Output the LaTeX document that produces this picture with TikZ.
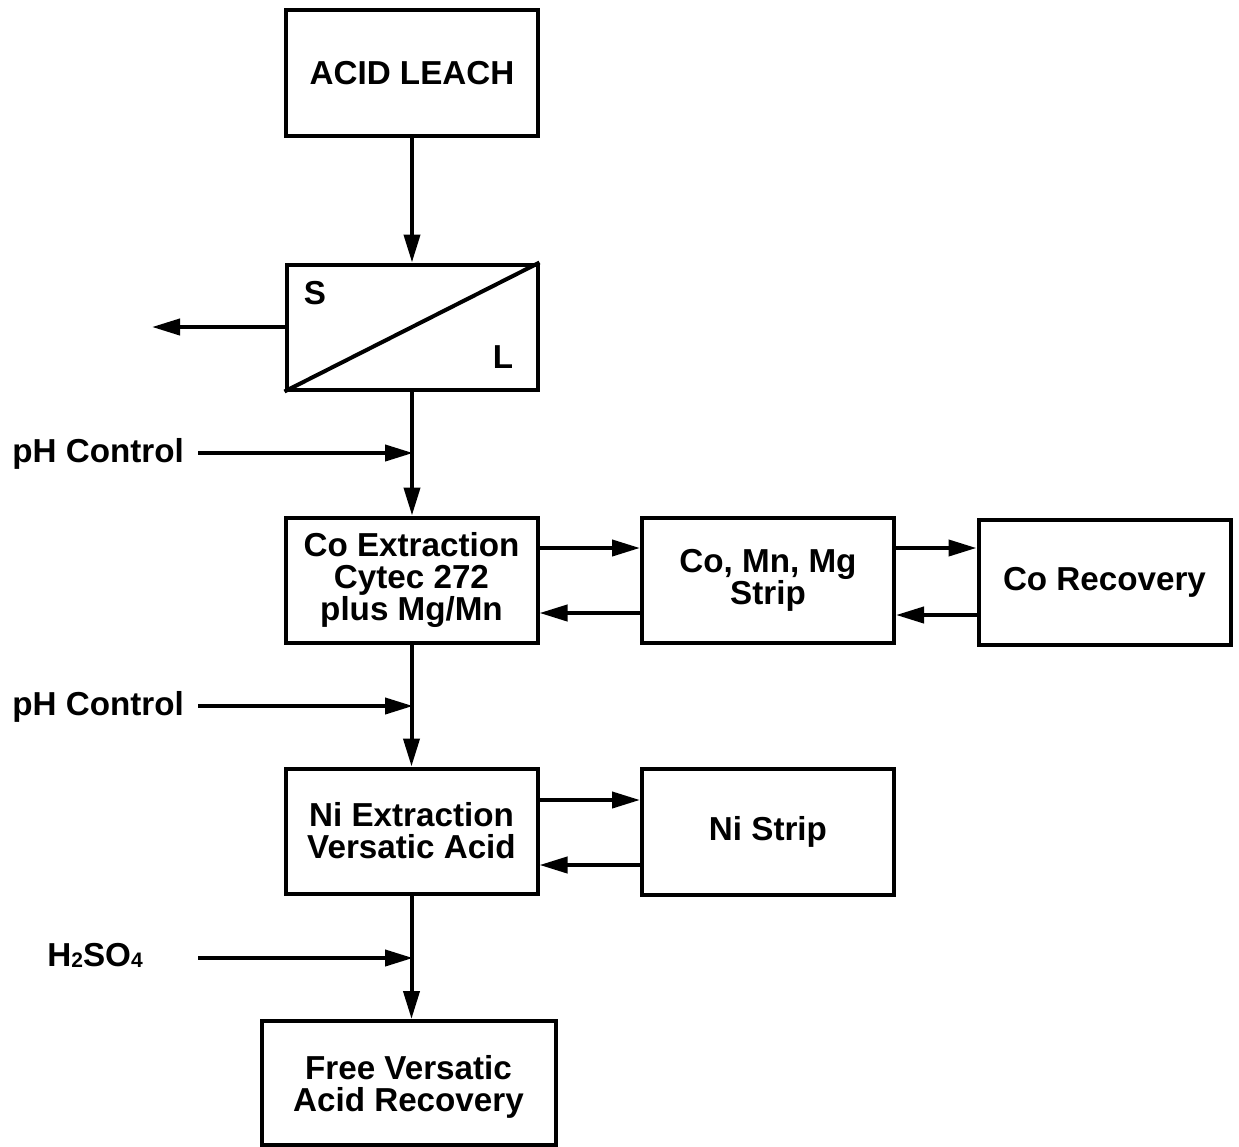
\documentclass[tikz,border=0pt]{standalone}
\usepackage{fontspec}
\setmainfont{Liberation Sans}
\usetikzlibrary{arrows.meta}
\begin{document}
\begin{tikzpicture}[x=0.5pt,y=-0.5pt,
  txt/.style={font=\bfseries\fontsize{16.6}{16}\selectfont},
  box/.style={draw, line width=2pt, inner sep=0pt, align=center, txt},
  lbl/.style={txt, inner sep=0pt, anchor=base west},
  arr/.style={line width=2pt, -{Triangle[length=14pt,width=8pt]}}]
\useasboundingbox (0,0) rectangle (1239,1147);
% boxes
\node[box, minimum width=126pt, minimum height=63pt] (acid) at (412,73) {ACID LEACH};
\node[box, minimum width=125.5pt, minimum height=62.5pt] (sl) at (412,327) {};
\node[box, minimum width=126pt, minimum height=62.5pt] (coext) at (411.5,580) {Co Extraction\\Cytec 272\\plus Mg/Mn};
\node[box, minimum width=126pt, minimum height=62.5pt] (strip) at (768,580) {Co, Mn, Mg\\Strip};
\node[box, minimum width=126pt, minimum height=62.5pt] (corec) at (1104.5,582) {Co Recovery};
\node[box, minimum width=126pt, minimum height=62.5pt] (niext) at (411.5,831) {Ni Extraction\\Versatic Acid};
\node[box, minimum width=126pt, minimum height=63pt] (nistrip) at (768,832) {Ni Strip};
\node[box, minimum width=147pt, minimum height=62pt, text depth=0pt] (free) at (408.5,1083) {Free Versatic\\Acid Recovery};
% solid/liquid separator
\draw[line width=2pt] (sl.south west) -- (sl.north east);
\node[txt, inner sep=0pt] (s) at (315,293) {S};
\node[txt, inner sep=0pt] (l) at (503,357) {L};
% labels
\node[lbl] (ph1) at (12,462) {pH Control};
\node[lbl] (ph2) at (12,715) {pH Control};
\node[lbl] (h2so4) at (47,966) {H{\raisebox{-0.5pt}{\fontsize{10.5}{10}\selectfont 2}}SO{\raisebox{-0.5pt}{\fontsize{10.5}{10}\selectfont 4}}};
\coordinate (ph1s) at (198,453);
\coordinate (ph2s) at (198,706);
\coordinate (h2s) at (198,958);
\coordinate (j1) at (413,453);
\coordinate (j2) at (413,706);
\coordinate (j3) at (413,958);
\coordinate (solids) at (152,327);
% vertical flow
\draw[arr] (acid.south -| sl.north) -- (sl.north);
\draw[arr] (sl.south) -- (sl.south |- coext.north);
\draw[arr] (coext.south) -- (niext.north);
\draw[arr] (niext.south) -- (niext.south |- free.north);
\draw[arr] (sl.west) -- (solids);
% reagent additions
\draw[arr] (ph1s) -- (j1);
\draw[arr] (ph2s) -- (j2);
\draw[arr] (h2s) -- (j3);
% side loops
\draw[arr] ([yshift=16pt]coext.east) coordinate (a1) -- (a1 -| strip.west);
\draw[arr] ([yshift=-16.5pt]strip.west) coordinate (a2) -- (a2 -| coext.east);
\draw[arr] ([yshift=16pt]strip.east) coordinate (a3) -- (a3 -| corec.west);
\draw[arr] ([yshift=-16.5pt]corec.west) coordinate (a4) -- (a4 -| strip.east);
\draw[arr] ([yshift=15.5pt]niext.east) coordinate (a5) -- (a5 -| nistrip.west);
\draw[arr] ([yshift=-16.5pt]nistrip.west) coordinate (a6) -- (a6 -| niext.east);
\end{tikzpicture}
\end{document}
